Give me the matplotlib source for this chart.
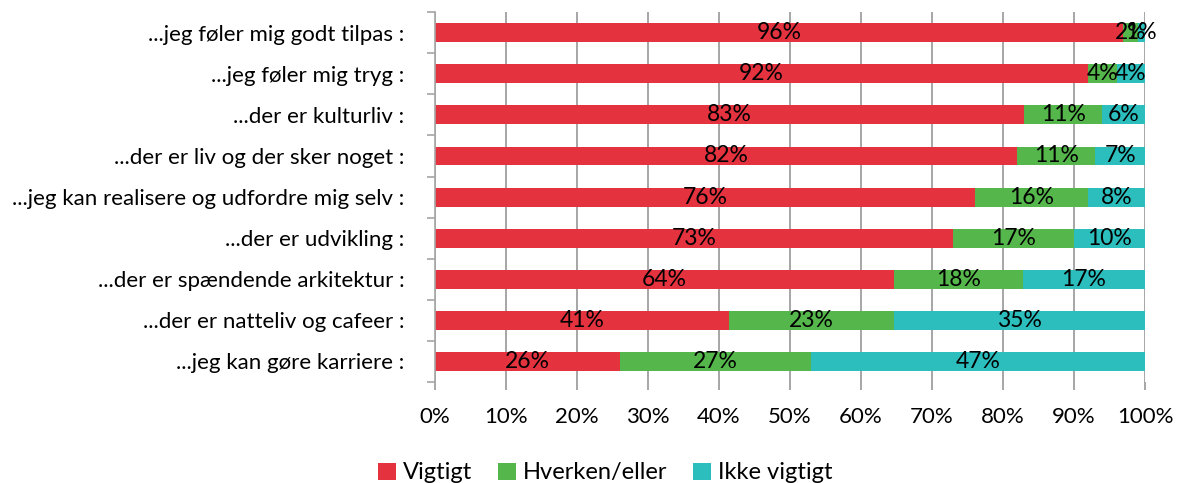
import numpy as np
import matplotlib
matplotlib.use('Agg')
import matplotlib.pyplot as plt
from matplotlib.ticker import FixedLocator, PercentFormatter

# Svar pr. udsagn (procent), nederste række først i listerne
udsagn = [
    '...jeg kan gøre karriere :',
    '...der er natteliv og cafeer :',
    '...der er spændende arkitektur :',
    '...der er udvikling :',
    '...jeg kan realisere og udfordre mig selv :',
    '...der er liv og der sker noget :',
    '...der er kulturliv :',
    '...jeg føler mig tryg :',
    '...jeg føler mig godt tilpas :',
]
vigtigt = [26, 41, 64, 73, 76, 82, 83, 92, 96]
hverken = [27, 23, 18, 17, 16, 11, 11, 4, 2]
ikke_vigtigt = [47, 35, 17, 10, 8, 7, 6, 4, 1]

serier = ['Vigtigt', 'Hverken/eller', 'Ikke vigtigt']
farver = ['#E5323F', '#55B74B', '#2CBDBD']

plt.rcParams['font.family'] = ['Lato', 'DejaVu Sans']
plt.rcParams['font.size'] = 16

fig = plt.figure(figsize=(11.82, 4.83), dpi=100)
ax = fig.add_axes([0.368, 0.209, 0.6007, 0.766])

# 100 % stablet: hver række skaleres til sin egen sum
data = np.array([vigtigt, hverken, ikke_vigtigt], dtype=float)
andel = data / data.sum(axis=0) * 100

y = np.arange(len(udsagn))
venstre = np.zeros(len(udsagn))
for navn, raa, bredde, farve in zip(serier, data, andel, farver):
    ax.barh(y, bredde, left=venstre, height=0.46, color=farve, label=navn, zorder=2)
    for yi, l, w, v in zip(y, venstre, bredde, raa):
        ax.text(l + w / 2, yi, f'{int(v)}%', ha='center', va='center',
                fontsize=16.5, color='black', zorder=3)
    venstre += bredde

ax.set_xlim(0, 100)
ax.set_ylim(-0.5, len(udsagn) - 0.5)
ax.xaxis.set_major_locator(FixedLocator(np.arange(0, 101, 10)))
ax.xaxis.set_major_formatter(PercentFormatter(decimals=0))
ax.grid(axis='x', color='#A6A6A6', linewidth=1.4, zorder=0)
ax.set_axisbelow(True)

# kategorinavne midt på, tick-streger mellem kategorierne
ax.set_yticks(y)
ax.set_yticklabels(udsagn)
ax.yaxis.set_minor_locator(FixedLocator(np.arange(-0.5, len(udsagn), 1)))
ax.tick_params(axis='y', which='major', length=0, pad=22, labelsize=16)
ax.tick_params(axis='y', which='minor', length=6, width=1.2, color='#A6A6A6')
ax.tick_params(axis='x', length=6, width=1.4, color='#A6A6A6', pad=12, labelsize=16)

for side in ['top', 'right', 'bottom']:
    ax.spines[side].set_visible(False)
ax.spines['left'].set_color('#A6A6A6')
ax.spines['left'].set_linewidth(1.2)

fig.legend(loc='lower center', bbox_to_anchor=(0.512, -0.045), ncol=3,
           frameon=False, fontsize=17, handlelength=0.75, handleheight=0.75,
           handletextpad=0.3, columnspacing=1.1)

fig.savefig('out.png', dpi=100)
